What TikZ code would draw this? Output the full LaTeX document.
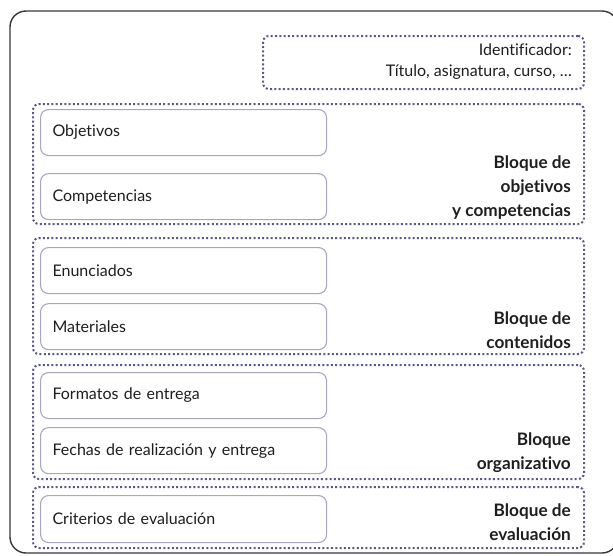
\documentclass[tikz,border=0pt]{standalone}
\usepackage{fontspec}
\setmainfont{Lato}[Ligatures=NoCommon]
\usetikzlibrary{positioning}
\definecolor{punteado}{RGB}{88,88,140}
\definecolor{borde}{RGB}{170,165,195}
\definecolor{marco}{RGB}{55,55,55}
\definecolor{texto}{RGB}{30,30,30}

\begin{document}
\begin{tikzpicture}[x=1pt, y=-1pt, node distance=8pt and 0pt, text=texto,
		caja/.style={draw=borde, line width=1.1pt, rounded corners=8pt, anchor=north west, minimum height=46pt, text width=262pt, inner xsep=12pt, align=left, font=\fontsize{16}{19}\selectfont},
		bloque/.style={draw=punteado, line width=2pt, dash pattern=on 2pt off 2.3pt, rounded corners=6pt, anchor=north west, minimum width=551pt, inner sep=0pt},
		etiqueta/.style={anchor=east, align=right, inner sep=0pt, font=\fontsize{17.2}{24}\selectfont\bfseries}]
		\useasboundingbox (0,0) rectangle (613,555);
		\draw[marco, line width=1.4pt, rounded corners=16pt] (10,11) rectangle (618,553);
		\node[bloque, minimum width=321pt, minimum height=53pt] (ident) at (262,35) {};
		\node[anchor=east, align=right, inner sep=0pt, font=\fontsize{16}{21}\selectfont] (identtxt) at (572,62) {Identificador:\\Título, asignatura, curso, \dots};
		\node[bloque, minimum height=120pt] (bobj) at (32,103) {};
		\node[bloque, minimum height=116pt] (bcont) at (32,237) {};
		\node[bloque, minimum height=114pt] (borg) at (32,364) {};
		\node[bloque, minimum height=61pt] (beval) at (32,486) {};
		\node[caja] (obj) at (40,109) {Objetivos};
		\node[caja, below=17pt of obj.south west, anchor=north west] (comp) {Competencias};
		\node[caja] (enun) at (40,247) {Enunciados};
		\node[caja, below=9pt of enun.south west, anchor=north west] (mat) {Materiales};
		\node[caja] (form) at (40,372) {Formatos de entrega};
		\node[caja, below=8pt of form.south west, anchor=north west] (fech) {Fechas de realización y entrega};
		\node[caja, minimum height=47pt] (crit) at (40,495) {Criterios de evaluación};
		\node[etiqueta] (lobj) at (571,188) {Bloque de\\objetivos\\y competencias};
		\node[etiqueta] (lcont) at (571,330) {Bloque de\\contenidos};
		\node[etiqueta] (lorg) at (571,453) {Bloque\\organizativo};
		\node[etiqueta] (leval) at (571,522) {Bloque de\\evaluación};
	\end{tikzpicture}
\end{document}
